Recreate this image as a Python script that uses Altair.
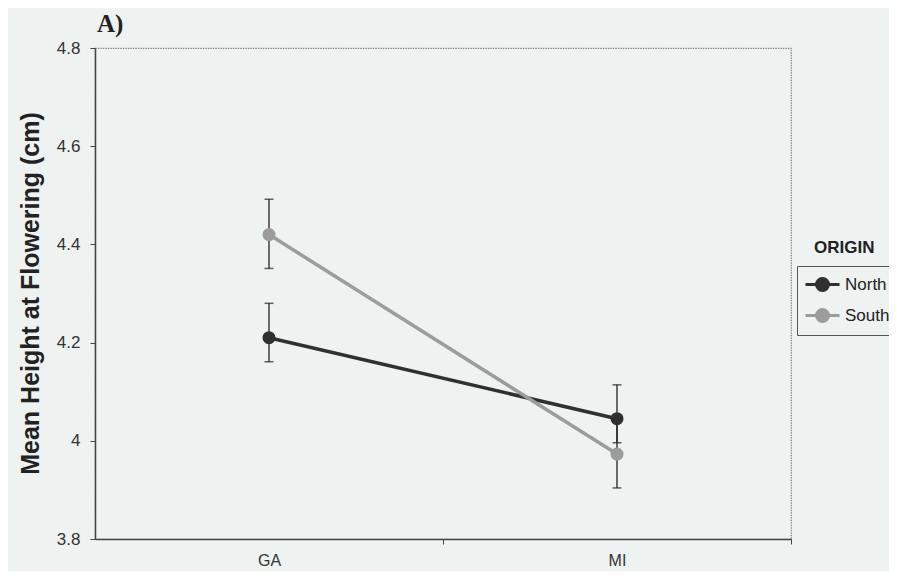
import altair as alt
import pandas as pd

sites = ["GA", "MI", "GA", "MI"]
origins = ["North", "North", "South", "South"]
means = [4.21, 4.045, 4.42, 3.973]
upper = [4.28, 4.114, 4.492, 4.042]
lower = [4.161, 3.996, 4.351, 3.904]

y_ticks = [3.8, 4.0, 4.2, 4.4, 4.6, 4.8]
origin_domain = ["North", "South"]
origin_colors = ["#303030", "#9c9c9c"]

df = pd.DataFrame({"Site": sites, "Origin": origins, "Mean": means,
                   "Upper": upper, "Lower": lower})

W, H = 696, 491
FONT = "Liberation Sans"

x_enc = alt.X("Site:N",
              scale=alt.Scale(type="point", domain=["GA", "MI"], padding=0.5),
              axis=alt.Axis(title=None, labelAngle=0, tickOffset=174, labelOffset=-174,
                            labelFontSize=16, labelFont=FONT, labelColor="#333",
                            labelPadding=8, tickSize=5, tickColor="#444",
                            domainColor="#444", domainWidth=1.5, grid=False))

y_scale = alt.Scale(domain=[3.8, 4.8], nice=False, zero=False)
y_axis = alt.Axis(title="Mean Height at Flowering (cm)", values=y_ticks, format="~g",
                  labelFontSize=17, labelFont=FONT, labelColor="#333", labelPadding=10,
                  tickSize=5, tickColor="#444", domainColor="#444", domainWidth=1.5,
                  grid=False, titleFont=FONT, titleFontSize=25, titleFontWeight="bold",
                  titleColor="#222", titleX=-57, titleY=245, titleAngle=-90,
                  titleAlign="center", titleBaseline="alphabetic")

base = alt.Chart(df)

legend_def = alt.Legend(title=None, orient="none", legendX=702, legendY=218,
                        symbolType="M-1,0L2.4,0M0.1,0A0.6,0.6,0,1,1,1.3,0A0.6,0.6,0,1,1,0.1,0",
                        symbolSize=400, symbolStrokeWidth=3, labelFontSize=17,
                        labelFont=FONT, labelColor="#222", padding=7, rowPadding=6,
                        strokeColor="#555", labelOffset=18)

errbars = base.mark_rule(color="#222", strokeWidth=1.3).encode(
    x=x_enc, y=alt.Y("Lower:Q", scale=y_scale, axis=y_axis), y2="Upper:Q")
cap_hi = base.mark_tick(color="#222", size=9, thickness=1.5).encode(
    x=x_enc, y=alt.Y("Upper:Q", scale=y_scale, axis=y_axis))
cap_lo = base.mark_tick(color="#222", size=9, thickness=1.5).encode(
    x=x_enc, y=alt.Y("Lower:Q", scale=y_scale, axis=y_axis))

lines = base.mark_line(strokeWidth=3.5).encode(
    x=x_enc, y=alt.Y("Mean:Q", scale=y_scale, axis=y_axis),
    stroke=alt.Stroke("Origin:N", scale=alt.Scale(domain=origin_domain, range=origin_colors),
                      legend=legend_def),
    detail="Origin:N")

points = base.mark_point(filled=True, size=170, opacity=1).encode(
    x=x_enc, y=alt.Y("Mean:Q", scale=y_scale, axis=y_axis),
    fill=alt.Fill("Origin:N", scale=alt.Scale(domain=origin_domain, range=origin_colors),
                  legend=legend_def))

legend_title = alt.Chart(pd.DataFrame({"t": ["ORIGIN"]})).mark_text(
    font=FONT, fontSize=17, fontWeight="bold", color="#222", align="left",
    baseline="middle").encode(x=alt.value(719), y=alt.value(200), text="t:N")

chart = alt.layer(errbars, cap_hi, cap_lo, lines, points, legend_title).properties(
    width=W, height=H,
    background="#eef2f1",
    autosize=alt.AutoSizeParams(type="none"),
    padding={"left": 87, "top": 40, "right": 98, "bottom": 32},
    title=alt.Title("A)", anchor="start", frame="group", font="Liberation Serif",
                    fontSize=25, fontWeight="bold", color="#222", offset=2, dx=2)
).configure_view(stroke="#888", strokeWidth=1.2, strokeDash=[1.5, 1])

chart.save("out.html", embed_options={"renderer": "svg", "actions": False})
